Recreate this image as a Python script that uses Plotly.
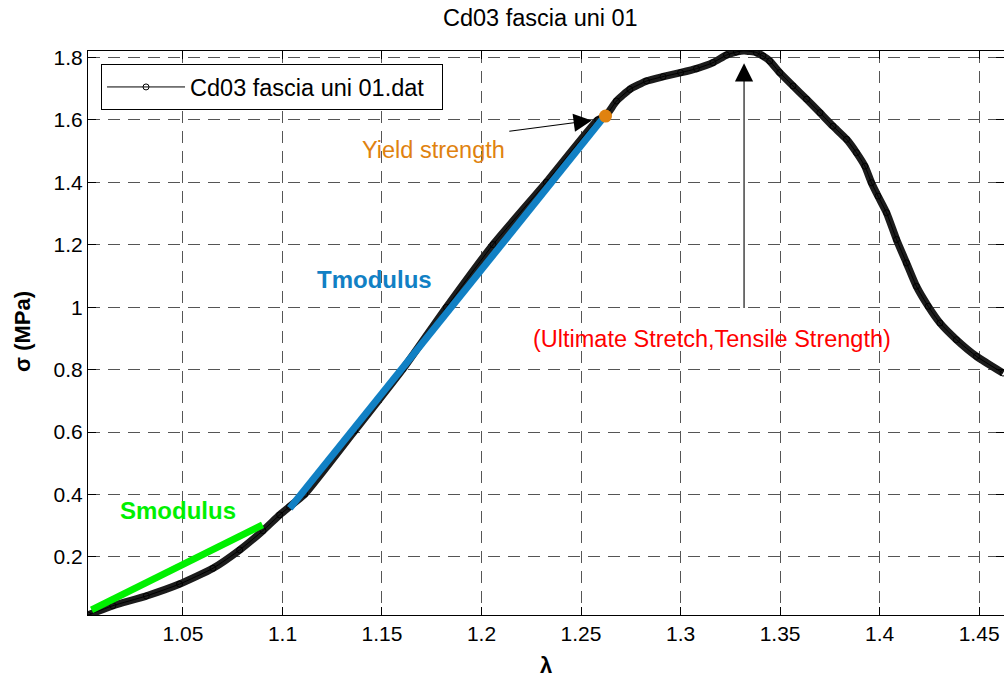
import plotly.graph_objects as go

# ---- data ----
lam = [1.0023, 1.0148, 1.0316, 1.0483, 1.0651, 1.0785, 1.0902, 1.0986, 1.1036, 1.1112,
       1.1363, 1.1606, 1.1824, 1.2058, 1.2326, 1.2584, 1.2623, 1.2678, 1.2745, 1.2829,
       1.2912, 1.3000, 1.3080, 1.3163, 1.3231, 1.3281, 1.3319, 1.3381, 1.3414, 1.3448,
       1.3498, 1.3565, 1.3633, 1.3700, 1.3766, 1.3834, 1.3884, 1.3926, 1.3959, 1.3992,
       1.4035, 1.4085, 1.4135, 1.4185, 1.4244, 1.4303, 1.4386, 1.4487, 1.4620]
sigma = [0.014, 0.0436, 0.0748, 0.113, 0.1636, 0.2223, 0.2843, 0.3346, 0.3612, 0.401,
         0.604, 0.803, 1.000, 1.2008, 1.4007, 1.600, 1.6124, 1.6606, 1.698, 1.7248,
         1.7389, 1.7517, 1.7645, 1.7838, 1.808, 1.818, 1.822, 1.816, 1.805, 1.789,
         1.752, 1.709, 1.6666, 1.6234, 1.580, 1.538, 1.495, 1.452, 1.399, 1.356,
         1.3026, 1.2169, 1.142, 1.067, 1.003, 0.9496, 0.896, 0.8425, 0.789]

smod_x = [1.0041, 1.0900]
smod_y = [0.030, 0.3025]
tmod_x = [1.1037, 1.2615]
tmod_y = [0.356, 1.609]
yield_pt = (1.2623, 1.6124)
ult_pt = (1.3319, 1.822)

xtick_vals = [1.05, 1.1, 1.15, 1.2, 1.25, 1.3, 1.35, 1.4, 1.45]
xtick_text = ["1.05", "1.1", "1.15", "1.2", "1.25", "1.3", "1.35", "1.4", "1.45"]
ytick_vals = [0.2, 0.4, 0.6, 0.8, 1.0, 1.2, 1.4, 1.6, 1.8]
ytick_text = ["0.2", "0.4", "0.6", "0.8", "1", "1.2", "1.4", "1.6", "1.8"]

x_range = [1.0023, 1.4625]
y_range = [0.0138, 1.821]

FONT = "Liberation Sans, Arial, Helvetica, sans-serif"
GREEN = "#00f000"
BLUE = "#1180c4"
ORANGE = "#e0820f"
RED = "#ff0000"

fig = go.Figure()

# dense-marker band of the measured curve
fig.add_trace(go.Scatter(x=lam, y=sigma, mode="lines", showlegend=False,
                         line=dict(color="#1c1c1c", width=7.5, shape="spline", smoothing=0.5),
                         hoverinfo="skip"))
# the series itself (legend entry)
fig.add_trace(go.Scatter(x=lam, y=sigma, mode="lines+markers", name="Cd03 fascia uni 01.dat",
                         line=dict(color="black", width=1, shape="spline", smoothing=0.5),
                         marker=dict(symbol="circle-open", size=6, color="black",
                                     line=dict(width=1, color="black"))))
fig.add_trace(go.Scatter(x=smod_x, y=smod_y, mode="lines", showlegend=False,
                         line=dict(color=GREEN, width=7)))
fig.add_trace(go.Scatter(x=tmod_x, y=tmod_y, mode="lines", showlegend=False,
                         line=dict(color=BLUE, width=7)))
fig.add_trace(go.Scatter(x=[yield_pt[0]], y=[yield_pt[1]], mode="markers", showlegend=False,
                         marker=dict(color=ORANGE, size=13)))
fig.add_trace(go.Scatter(x=[ult_pt[0]], y=[ult_pt[1]], mode="markers", showlegend=False,
                         marker=dict(color=RED, size=9), cliponaxis=False))

ann = []
ann.append(dict(text="Smodulus", x=1.0473, y=0.3474, xref="x", yref="y", showarrow=False,
                font=dict(family=FONT, size=24, color=GREEN, weight="bold")))
ann.append(dict(text="Tmodulus", x=1.1461, y=1.0886, xref="x", yref="y", showarrow=False,
                font=dict(family=FONT, size=24, color=BLUE, weight="bold")))
ann.append(dict(text="Yield strength", x=1.176, y=1.5024, xref="x", yref="y", showarrow=False,
                font=dict(family=FONT, size=23.5, color=ORANGE)))
ann.append(dict(text="(Ultimate Stretch,Tensile Strength)", x=1.3157, y=0.8993, xref="x", yref="y",
                showarrow=False, font=dict(family=FONT, size=23.5, color=RED)))
# arrows
ann.append(dict(text="", x=1.2554, y=1.5987, ax=1.2132, ay=1.5634, xref="x", yref="y",
                axref="x", ayref="y", showarrow=True, arrowhead=2, arrowsize=3.3,
                arrowwidth=1.1, arrowcolor="black"))
ann.append(dict(text="", x=1.3319, y=1.7815, ax=1.3319, ay=0.9923, xref="x", yref="y",
                axref="x", ayref="y", showarrow=True, arrowhead=2, arrowsize=3.3,
                arrowwidth=1.1, arrowcolor="black"))
# title and axis labels
ann.append(dict(text="Cd03 fascia uni 01", x=(540 - 88) / 916, y=1, xref="paper", yref="paper",
                yshift=33, yanchor="middle", showarrow=False,
                font=dict(family=FONT, size=23.5, color="black")))
ann.append(dict(text="λ", x=0.5, y=0, xref="paper", yref="paper", yshift=-50, yanchor="middle",
                showarrow=False, font=dict(family=FONT, size=22, color="black", weight="bold")))
ann.append(dict(text="σ (MPa)", x=0, y=(615 - 332) / 564, xref="paper", yref="paper",
                xshift=-66, textangle=-90, xanchor="center", yanchor="middle", showarrow=False,
                font=dict(family=FONT, size=22, color="black", weight="bold")))

axis_common = dict(showline=True, linecolor="black", linewidth=1.2, mirror="ticks",
                   ticks="inside", ticklen=8, tickcolor="black", showgrid=True,
                   gridcolor="#555555", gridwidth=1, griddash="12px,8px", zeroline=False,
                   tickfont=dict(family=FONT, size=21, color="black"))

fig.update_layout(
    width=1004, height=680,
    margin=dict(l=88, r=0, t=51, b=65),
    paper_bgcolor="white", plot_bgcolor="white",
    xaxis=dict(range=x_range, tickvals=xtick_vals, ticktext=xtick_text, **axis_common),
    yaxis=dict(range=y_range, tickvals=ytick_vals, ticktext=ytick_text, **axis_common),
    legend=dict(x=0.014, y=0.977, xanchor="left", yanchor="top", bgcolor="white",
                bordercolor="black", borderwidth=1.2, orientation="h",
                itemwidth=78, entrywidth=246, entrywidthmode="pixels",
                font=dict(family=FONT, size=23.5, color="black")),
    annotations=ann,
    showlegend=True,
)

# remove the default page margin so the figure sits at the window's top-left corner
fig.write_html("out.html", config={"displayModeBar": False},
               post_script="document.body.style.margin='0';document.body.style.padding='0';")
